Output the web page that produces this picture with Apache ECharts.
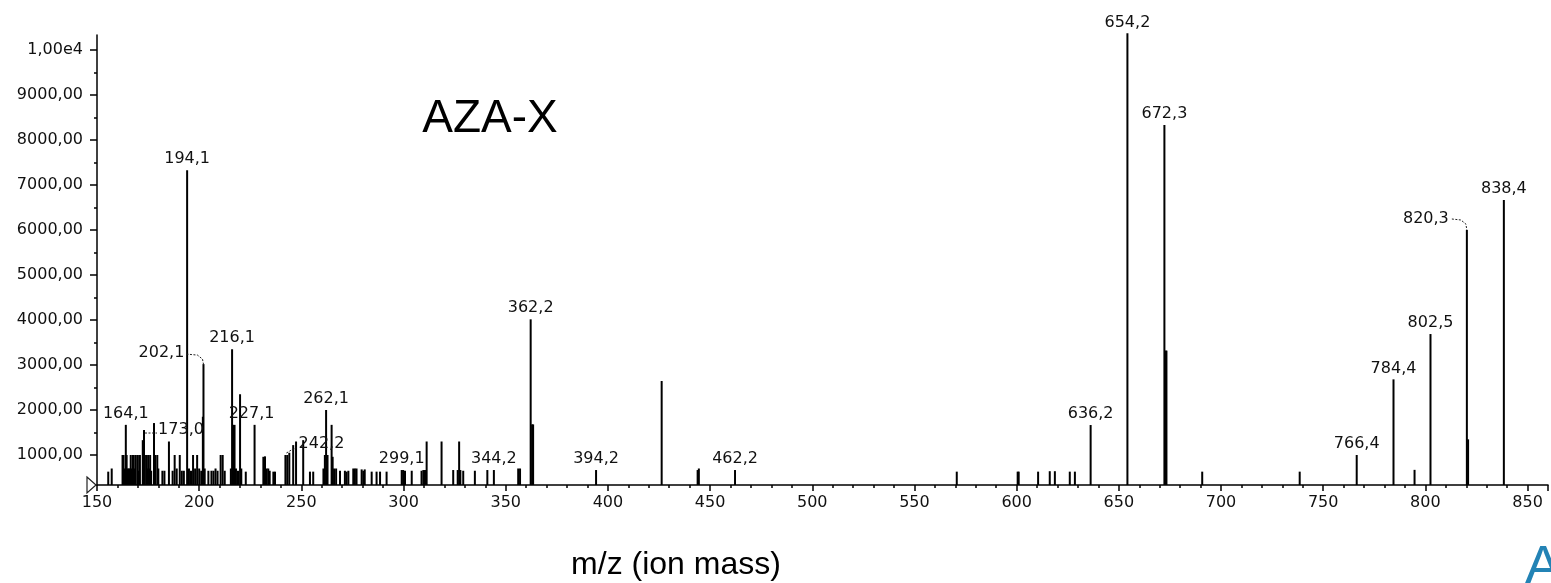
<!DOCTYPE html>
<html><head><meta charset="utf-8">
<script src="https://cdn.jsdelivr.net/npm/echarts@6/dist/echarts.min.js"></script>
<style>html,body{margin:0;padding:0;background:#fff}#c{width:1551px;height:583px}</style>
</head><body><div id="c"></div>
<script>
// ---------- data ----------
const X_MIN = 150, X_MAX = 860, X_INTERVAL = 50;
const Y_MIN = 333.33, Y_MAX = 10333.33;
const yTickValues = [1000, 2000, 3000, 4000, 5000, 6000, 7000, 8000, 9000, 10000];
const yTickLabels = ['1000,00', '2000,00', '3000,00', '4000,00', '5000,00', '6000,00', '7000,00', '8000,00', '9000,00', '1,00e4'];
const yMinorTickValues = [1500, 2500, 3500, 4500, 5500, 6500, 7500, 8500, 9500];
const chartTitle = 'AZA-X';
const xAxisTitle = 'm/z (ion mass)';

// unlabeled sticks: [m/z, intensity]
const sticks = [
  [155.5, 630], [157.2, 700],
  [162.5, 1000], [163.0, 1000], [163.5, 700], [164.5, 1000], [165.0, 700], [165.5, 700], [166.0, 700],
  [166.5, 1000], [167.0, 700], [167.5, 1000], [168.0, 1000], [168.5, 700], [169.0, 1000], [170.0, 1000],
  [170.5, 650], [171.0, 1000], [172.4, 1330], [174.0, 1000], [174.5, 700], [175.0, 1000], [175.5, 700],
  [176.0, 1000], [176.5, 650], [177.9, 1710], [178.5, 1000], [179.5, 1000], [180.0, 700], [182.0, 650],
  [183.0, 650], [185.2, 1300], [187.0, 650], [188.0, 1000], [189.0, 700], [190.5, 1000], [191.5, 650],
  [192.5, 650], [195.0, 700], [196.0, 650], [197.0, 1000], [198.0, 700], [199.0, 1000], [200.0, 700],
  [201.0, 650], [201.8, 1850], [202.7, 700], [204.5, 650], [206.0, 650], [207.0, 650], [208.0, 700],
  [209.0, 650], [210.5, 1000], [211.5, 1000], [212.5, 650], [215.5, 700], [216.6, 1670], [217.3, 1670],
  [218.0, 700], [219.0, 650], [220.0, 2350], [220.6, 700], [222.8, 630], [231.4, 960], [232.2, 970],
  [233.0, 700], [233.8, 700], [234.5, 650], [236.3, 630], [237.1, 630], [243.1, 1000], [244.1, 1050],
  [246.0, 1220], [247.4, 1300], [250.9, 1330], [254.2, 630], [255.8, 630], [260.8, 700], [261.5, 1000],
  [262.8, 1000], [264.8, 1670], [265.3, 960], [266.0, 700], [267.0, 700], [268.9, 650], [271.3, 650],
  [272.1, 630], [273.0, 650], [275.4, 700], [276.2, 700], [277.0, 700], [279.5, 680], [280.3, 650],
  [281.0, 680], [284.4, 630], [286.8, 630], [288.5, 630], [291.7, 630], [299.8, 666], [300.7, 650],
  [304.0, 650], [308.8, 650], [309.7, 666], [310.5, 666], [311.3, 1300], [318.6, 1300], [324.3, 666],
  [326.5, 666], [327.2, 1300], [327.8, 666], [329.2, 650], [334.9, 650], [341.0, 666], [356.1, 700],
  [357.0, 700], [362.9, 1680], [363.4, 1680], [426.3, 2644], [443.9, 666], [444.5, 700],
  [570.7, 630], [600.5, 630], [601.0, 630], [610.5, 630], [616.2, 640], [618.7, 640], [626.0, 630],
  [628.5, 630], [672.9, 3320], [673.3, 3320], [690.8, 630], [738.5, 630], [794.7, 670], [820.9, 1348]
];

// labeled peaks: [m/z, intensity, label]
const labeledPeaks = [
  [164.1, 1670, '164,1'], [173.0, 1555, '173,0'], [194.1, 7330, '194,1'], [202.1, 3020, '202,1'],
  [216.1, 3350, '216,1'], [227.1, 1670, '227,1'], [242.2, 1000, '242,2'], [262.1, 2000, '262,1'],
  [299.1, 666, '299,1'], [344.2, 666, '344,2'], [362.2, 4015, '362,2'], [394.2, 666, '394,2'],
  [462.2, 666, '462,2'], [636.2, 1666, '636,2'], [654.2, 10370, '654,2'], [672.3, 8333, '672,3'],
  [766.4, 1000, '766,4'], [784.4, 2681, '784,4'], [802.5, 3688, '802,5'], [820.3, 6000, '820,3'],
  [838.4, 6666, '838,4']
];

// ---------- styling for labels (offsets in px, leader points relative to peak top) ----------
const labelStyle = {
  '202,1': { dx: -42, dy: 0, leader: [[-17, -10], [-6, -9], [-1, -5], [0, 0]] },
  '820,3': { dx: -41, dy: 0, leader: [[-15, -11], [-6, -10], [-1, -6], [0, 0]] },
  '173,0': { dx: 37, dy: 11, leader: [[1, 3], [13, 3]] },
  '242,2': { dx: 36, dy: 0, leader: [[1, -2], [6, -5], [11, -7]] },
  '227,1': { dx: -3, dy: 0 }
};

const FONT = '"DejaVu Sans", sans-serif';
const TEXT_COLOR = '#111';
const allSticks = sticks.concat(labeledPeaks.map(p => [p[0], p[1]]));

const chart = echarts.init(document.getElementById('c'), null, { renderer: 'canvas' });
const option = {
  animation: false,
  backgroundColor: '#fff',
  grid: { left: 97, right: 3, top: 35, bottom: 98 },
  xAxis: {
    type: 'value', min: X_MIN, max: X_MAX, interval: X_INTERVAL,
    axisLine: { show: true, onZero: false, lineStyle: { color: '#000', width: 1.5 } },
    axisTick: { show: true, length: 6, lineStyle: { color: '#000', width: 1.5 } },
    minorTick: { show: true, splitNumber: 5, length: 3, lineStyle: { color: '#000', width: 1.5 } },
    splitLine: { show: false },
    axisLabel: { color: TEXT_COLOR, fontFamily: FONT, fontSize: 16, margin: 10,
      formatter: v => (v > 850 ? '' : String(v)) }
  },
  yAxis: [{
    type: 'value', min: Y_MIN, max: Y_MAX,
    axisLine: { show: true, onZero: false, lineStyle: { color: '#000', width: 1.5 } },
    axisTick: { show: true, length: 7, customValues: yTickValues, lineStyle: { color: '#000', width: 1.5 } },
    splitLine: { show: false },
    axisLabel: { color: TEXT_COLOR, fontFamily: FONT, fontSize: 16, margin: 14, customValues: yTickValues,
      formatter: v => yTickLabels[yTickValues.indexOf(Math.round(v))] || '' }
  }, {
    type: 'value', min: Y_MIN, max: Y_MAX, position: 'left',
    axisLine: { show: false },
    axisTick: { show: true, length: 3, customValues: yMinorTickValues, lineStyle: { color: '#000', width: 1.5 } },
    axisLabel: { show: false }, splitLine: { show: false }
  }],
  series: [{
    type: 'custom', clip: false, data: allSticks,
    renderItem: function (params, api) {
      const top = api.coord([api.value(0), api.value(1)]);
      const base = api.coord([api.value(0), Y_MIN]);
      return { type: 'line', shape: { x1: top[0], y1: base[1], x2: top[0], y2: top[1] },
        style: { stroke: '#000', lineWidth: 2 } };
    }
  }, {
    type: 'custom', clip: false, data: labeledPeaks,
    renderItem: function (params, api) {
      const p = labeledPeaks[params.dataIndex];
      const top = api.coord([p[0], p[1]]);
      const st = labelStyle[p[2]] || {};
      const children = [{
        type: 'text',
        style: { text: p[2], x: top[0] + (st.dx || 0), y: top[1] - 11 + (st.dy || 0),
          textAlign: 'center', textVerticalAlign: 'middle', fill: TEXT_COLOR, font: '16px ' + FONT }
      }];
      if (st.leader) {
        children.push({ type: 'polyline',
          shape: { points: st.leader.map(q => [top[0] + q[0], top[1] + q[1]]) },
          style: { stroke: '#222', lineWidth: 1, fill: null, lineDash: [2, 1.5] } });
      }
      return { type: 'group', children: children };
    }
  }],
  graphic: [
    { type: 'text', x: 490, y: 119, style: { text: chartTitle, textAlign: 'center', textVerticalAlign: 'middle',
      fill: '#000', font: '46px "Liberation Sans", Arial, sans-serif' } },
    { type: 'text', x: 676, y: 565, style: { text: xAxisTitle, textAlign: 'center', textVerticalAlign: 'middle',
      fill: '#000', font: '32px "Liberation Sans", Arial, sans-serif' } },
    { type: 'text', x: 1525, y: 568, style: { text: 'A', textAlign: 'left', textVerticalAlign: 'middle',
      fill: '#2383b5', font: '54px "Liberation Sans", Arial, sans-serif' } }
  ]
};
chart.setOption(option);
// origin marker (open triangle) placed at the axis origin via the grid's own scale
const o = chart.convertToPixel({ gridIndex: 0 }, [X_MIN, Y_MIN]);
chart.setOption({ graphic: option.graphic.concat([{ type: 'polygon',
  shape: { points: [[o[0] - 10, o[1] - 8], [o[0] - 1, o[1]], [o[0] - 10, o[1] + 8]] },
  style: { fill: null, stroke: '#222', lineWidth: 1.2 } }]) });
</script>
</body></html>
